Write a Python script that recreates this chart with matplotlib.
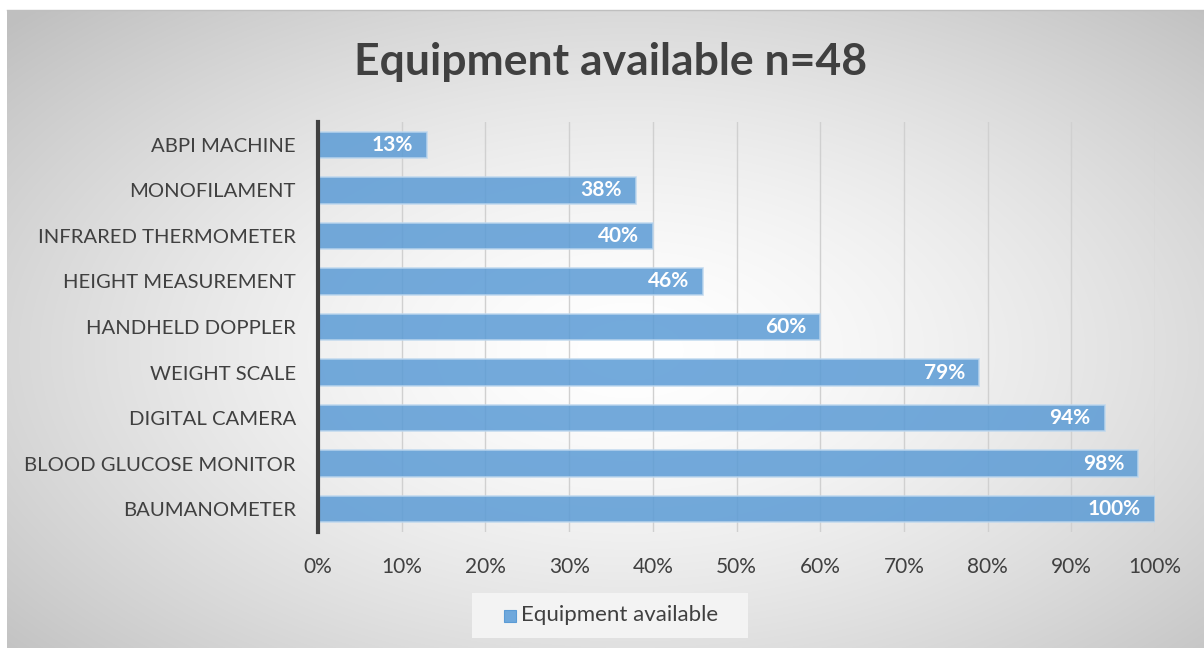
import numpy as np
import matplotlib.pyplot as plt
from matplotlib.patches import Rectangle
from matplotlib.ticker import PercentFormatter

categories = ['BAUMANOMETER', 'BLOOD GLUCOSE MONITOR', 'DIGITAL CAMERA', 'WEIGHT SCALE',
              'HANDHELD DOPPLER', 'HEIGHT MEASUREMENT', 'INFRARED THERMOMETER',
              'MONOFILAMENT', 'ABPI MACHINE']
values = [100, 98, 94, 79, 60, 46, 40, 38, 13]
labels = ['100%', '98%', '94%', '79%', '60%', '46%', '40%', '38%', '13%']
xticks = [0, 10, 20, 30, 40, 50, 60, 70, 80, 90, 100]

plt.rcParams['font.family'] = ['Lato', 'DejaVu Sans']

W, H = 1204, 648
fig = plt.figure(figsize=(W / 100, H / 100), dpi=100)

# radial gradient background
bg = fig.add_axes([0, 0, 1, 1], zorder=-10)
yy, xx = np.mgrid[0:H, 0:W]
cx, cy = 630, 350
r = np.sqrt(((xx - cx) / 600) ** 2 + ((yy - cy) / 340) ** 2) / np.sqrt(2)
r = np.clip(r, 0, 1)
shade = 1.0 - 0.25 * r ** 1.5
img = np.dstack([shade, shade, shade])
img[:10, :, :] = 1.0
img[:, :7, :] = 1.0
bg.imshow(img, aspect='auto', extent=[0, W, H, 0], interpolation='bilinear')
bg.plot([7, W], [10, 10], color='#bfbfbf', lw=1)
bg.set_xlim(0, W)
bg.set_ylim(H, 0)
bg.axis('off')

ax = fig.add_axes([318 / W, 1 - 532 / H, (1155 - 318) / W, (532 - 122) / H])
ax.patch.set_alpha(0)
y = np.arange(len(categories))
ax.barh(y, values, height=0.58, color='#5b9bd5', alpha=0.85,
        edgecolor='#bdd7ee', linewidth=1.2, zorder=3)
for yi, v, lab in zip(y, values, labels):
    ax.text(v - 1.7, yi, lab, ha='right', va='center', color='white',
            fontsize=15, fontweight='bold', zorder=4)

ax.set_xlim(0, 100)
ax.set_ylim(-0.5, 8.5)
ax.set_xticks(xticks)
ax.xaxis.set_major_formatter(PercentFormatter(decimals=0))
ax.set_yticks(y)
ax.set_yticklabels(categories)
ax.tick_params(axis='y', length=0, pad=16, labelsize=14.6, labelcolor='#404040')
ax.tick_params(axis='x', length=0, pad=18, labelsize=15, labelcolor='#404040')
ax.grid(axis='x', color='#d0d0d0', lw=1, zorder=0)
for s in ['top', 'right', 'bottom']:
    ax.spines[s].set_visible(False)
ax.spines['left'].set_color('#404040')
ax.spines['left'].set_linewidth(3)
ax.spines['left'].set_zorder(5)

fig.text(611 / W, 1 - 62 / H, 'Equipment available n=48', ha='center', va='center',
         fontsize=32, fontweight='bold', color='#404040')

# legend
leg_box = Rectangle((472 / W, 1 - 638 / H), (748 - 472) / W, 45 / H,
                    transform=fig.transFigure, facecolor='#f3f3f3', edgecolor='none')
fig.patches.append(leg_box)
fig.patches.append(Rectangle((504 / W, 1 - 622 / H), 12 / W, 12 / H,
                             transform=fig.transFigure, facecolor='#6fa8dc',
                             edgecolor='#5b9bd5', lw=0.8))
fig.text(521 / W, 1 - 615 / H, 'Equipment available', ha='left', va='center',
         fontsize=16, color='#404040')

fig.savefig('out.png', dpi=100)
